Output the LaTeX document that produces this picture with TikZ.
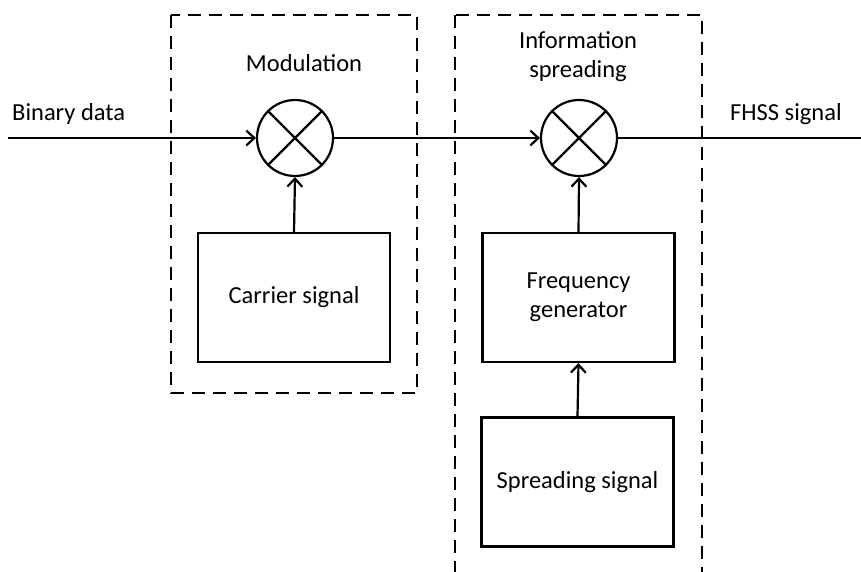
\documentclass[tikz,border=0pt]{standalone}
\usepackage{fontspec}
\setmainfont{Carlito}
\usetikzlibrary{arrows.meta,positioning}

\tikzset{
  label_txt/.style={inner sep=0pt, font=\fontsize{24.5}{29}\selectfont, align=center},
  block/.style={draw, line width=2.2pt, minimum width=192pt, minimum height=129pt, label_txt},
  mixer/.style={draw, circle, line width=2.2pt, minimum size=76pt, inner sep=0pt},
  group/.style={draw, line width=2.8pt, dash pattern=on 13pt off 8pt},
  sig/.style={line width=2.2pt, -{Straight Barb[length=8pt,width=15pt,line width=2.2pt]}},
}

\begin{document}
\begin{tikzpicture}[x=1pt,y=-1pt]
\useasboundingbox (0,0) rectangle (861,572);
% dashed groups
\draw [group] (171,15) rectangle (417,393); % modulation
\draw [group] (455,15) rectangle (702,573); % spreading
% texts
\node[label_txt] (label_mod) at (304,63) {Modulation};
\node[label_txt] (label_spr) at (578,57) {Information\\spreading};
\node[label_txt, anchor=base west] (label_in) at (12,121) {Binary data};
\node[label_txt, anchor=base west] (label_out) at (730,121) {FHSS signal};
% mixers
\node[mixer] (mix_mod) at (295,138) {};
\node[mixer] (mix_spr) at (579,138) {};
\draw [line width=2.2pt] (mix_mod.north west) -- (mix_mod.south east);
\draw [line width=2.2pt] (mix_mod.north east) -- (mix_mod.south west);
\draw [line width=2.2pt] (mix_spr.north west) -- (mix_spr.south east);
\draw [line width=2.2pt] (mix_spr.north east) -- (mix_spr.south west);
% blocks
\node[block] (carrier) at (294,297.5) {Carrier signal};
\node[block] (freq_gen) at (578.5,297.5) {Frequency\\generator};
\node[block] (spread_sig) at (577.5,482) {Spreading signal};
% signal path
\coordinate (in_start) at (8,138);
\coordinate (out_end) at (861,138);
\draw [sig] (in_start) -- (mix_mod.west); % data in
\draw [sig] (mix_mod.east) -- (mix_spr.west); % modulated
\draw [line width=2.2pt] (mix_spr.east) -- (out_end); % fhss out
\draw [sig] (carrier.north) -- (mix_mod.south); % carrier
\draw [sig] (freq_gen.north) -- (mix_spr.south); % hop carrier
\draw [sig] (spread_sig.north) -- (freq_gen.south); % code
\end{tikzpicture}
\end{document}
